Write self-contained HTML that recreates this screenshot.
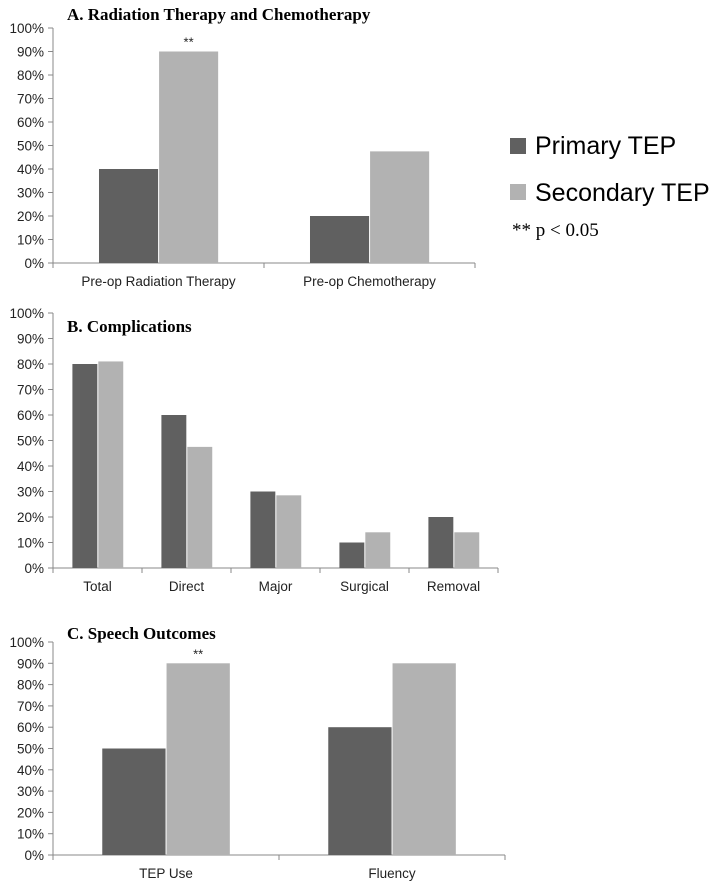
<!DOCTYPE html>
<html><head><meta charset="utf-8"><style>
html,body{margin:0;padding:0;background:#fff;}
svg{display:block;}
</style></head><body>
<svg id="fig" width="714" height="889" xmlns="http://www.w3.org/2000/svg">
<text x="67" y="20" font-family="Liberation Serif,serif" font-weight="bold" font-size="17">A. Radiation Therapy and Chemotherapy</text>
<text x="67" y="332" font-family="Liberation Serif,serif" font-weight="bold" font-size="17">B. Complications</text>
<text x="67" y="639" font-family="Liberation Serif,serif" font-weight="bold" font-size="17">C. Speech Outcomes</text>
<g>
<rect x="510" y="138" width="16" height="16" fill="#606060"/>
<text x="535" y="154" font-family="Liberation Sans,sans-serif" font-size="25">Primary TEP</text>
<rect x="510" y="184" width="16" height="16" fill="#b2b2b2"/>
<text x="535" y="201" font-family="Liberation Sans,sans-serif" font-size="25">Secondary TEP</text>
<text x="512" y="236" font-family="Liberation Serif,serif" font-size="19">** p &lt; 0.05</text>
</g>
</svg>
<script>
const ticks = ["0%","10%","20%","30%","40%","50%","60%","70%","80%","90%","100%"];
const catsA = ["Pre-op Radiation Therapy","Pre-op Chemotherapy"];
const primA = [40,20];
const secA = [90,47.5];
const sigA = [true,false];
const catsB = ["Total","Direct","Major","Surgical","Removal"];
const primB = [80,60,30,10,20];
const secB = [81,47.5,28.5,14,14];
const sigB = [false,false,false,false,false];
const catsC = ["TEP Use","Fluency"];
const primC = [50,60];
const secC = [90,90];
const sigC = [true,false];

const NS="http://www.w3.org/2000/svg";
const svg=document.getElementById('fig');
function mk(tag,attrs,parent){const e=document.createElementNS(NS,tag);for(const k in attrs)e.setAttribute(k,attrs[k]);(parent||svg).appendChild(e);return e;}

function chart(id,cats,prim,sec,sig,x0,x1,y0,y100){
  const g=mk('g',{});
  
  
  const y=v=>y0-(y0-y100)*v/100;
  const band=(x1-x0)/cats.length;
  // ticks
  ticks.forEach((t,i)=>{
    const v=i*10, yy=y(v);
    const tl=mk('line',{x1:x0-5,x2:x0,y1:yy,y2:yy,stroke:'#888','stroke-width':1},g);
    
    
    const tx=mk('text',{x:x0-9,y:yy+5,'text-anchor':'end','font-family':'Liberation Sans,sans-serif','font-size':13.5,fill:'#222'},g);
    tx.textContent=t;
    
    
  });
  const ya=mk('line',{x1:x0,x2:x0,y1:y100,y2:y0,stroke:'#888','stroke-width':1},g);
  
  
  const xa=mk('line',{x1:x0,x2:x1,y1:y0,y2:y0,stroke:'#888','stroke-width':1},g);
  
  
  for(let i=0;i<=cats.length;i++){
    const xt=mk('line',{x1:x0+band*i,x2:x0+band*i,y1:y0,y2:y0+5,stroke:'#888','stroke-width':1},g);
    
    
  }
  const bw=band*0.28;
  cats.forEach((c,i)=>{
    const bx=x0+band*i+band*0.218;
    const r1=mk('rect',{x:bx,y:y(prim[i]),width:bw,height:y0-y(prim[i]),fill:'#606060'},g);
    
    
    const r2=mk('rect',{x:bx+bw+1,y:y(sec[i]),width:bw,height:y0-y(sec[i]),fill:'#b2b2b2'},g);
    
    
    const lb=mk('text',{x:x0+band*(i+0.5),y:y0+23,'text-anchor':'middle','font-family':'Liberation Sans,sans-serif','font-size':13.5,fill:'#222'},g);
    lb.textContent=c;
    
    
    if(sig[i]){
      const s=mk('text',{x:bx+bw*1.5+1,y:y(sec[i])-5,'text-anchor':'middle','font-family':'Liberation Sans,sans-serif','font-size':13,fill:'#222'},g);
      s.textContent='**';
      
      
    }
  });
}
chart('chart-a',catsA,primA,secA,sigA,53,475,263,28);
chart('chart-b',catsB,primB,secB,sigB,53,498,568,313);
chart('chart-c',catsC,primC,secC,sigC,53,505,855,642);
</script>
</body></html>
